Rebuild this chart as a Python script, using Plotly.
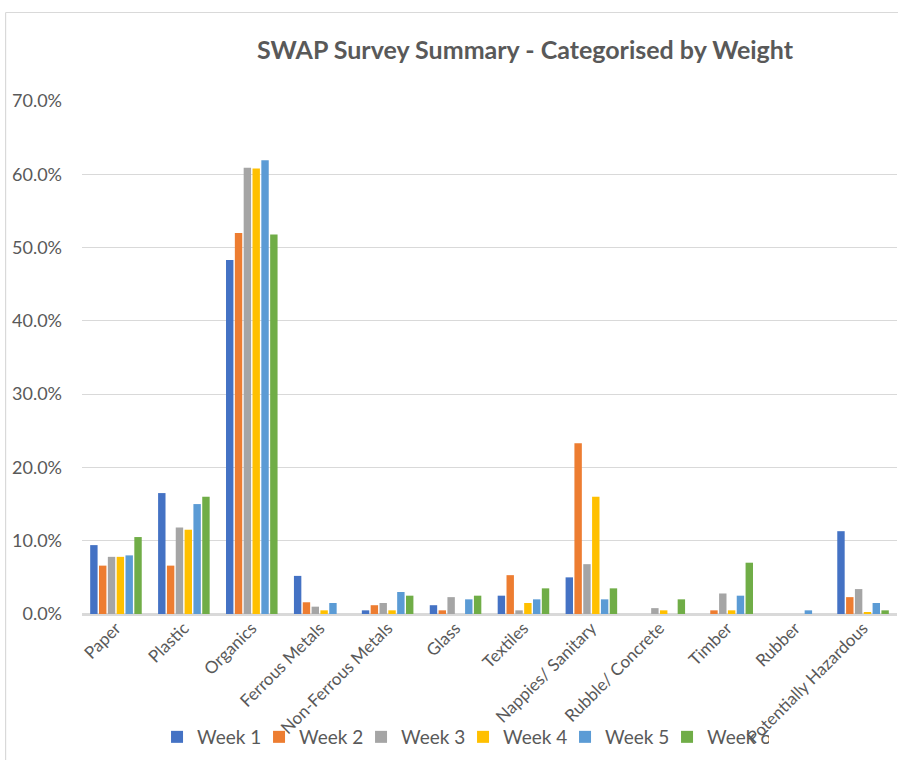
import plotly.graph_objects as go

# Waste composition by category, share of total weight per survey week
categories = [
    "Paper", "Plastic", "Organics", "Ferrous Metals", "Non-Ferrous Metals",
    "Glass", "Textiles", "Nappies/ Sanitary", "Rubble/ Concrete", "Timber",
    "Rubber", "Potentially Hazardous",
]

week_1 = [0.094, 0.165, 0.483, 0.052, 0.005, 0.012, 0.025, 0.050, None, None, None, 0.113]
week_2 = [0.066, 0.066, 0.520, 0.016, 0.012, 0.005, 0.053, 0.233, None, 0.005, None, 0.023]
week_3 = [0.078, 0.118, 0.609, 0.010, 0.015, 0.023, 0.005, 0.068, 0.008, 0.028, None, 0.034]
week_4 = [0.078, 0.115, 0.608, 0.005, 0.005, None, 0.015, 0.160, 0.005, 0.005, None, 0.002]
week_5 = [0.080, 0.150, 0.619, 0.015, 0.030, 0.020, 0.020, 0.020, None, 0.025, 0.005, 0.015]
week_6 = [0.105, 0.160, 0.518, None, 0.025, 0.025, 0.035, 0.035, 0.020, 0.070, None, 0.005]

series_names = ["Week 1", "Week 2", "Week 3", "Week 4", "Week 5", "Week 6"]
series_values = [week_1, week_2, week_3, week_4, week_5, week_6]
series_colors = ["#4472C4", "#ED7D31", "#A5A5A5", "#FFC000", "#5B9BD5", "#70AD47"]

y_ticks = [0, 0.1, 0.2, 0.3, 0.4, 0.5, 0.6, 0.7]

FONT = "Lato"
TEXT_GREY = "#595959"
GRID_GREY = "#D9D9D9"

fig = go.Figure()
for name, values, color in zip(series_names, series_values, series_colors):
    fig.add_trace(go.Bar(
        x=categories,
        y=values,
        name=name,
        marker=dict(color=color, line=dict(width=0)),
    ))

W, H = 898, 760
ml, mr, mt, mb = 81.5, 0.5, 101, 146
pw = W - ml - mr
ph = H - mt - mb


def px_x(x):
    return (x - ml) / pw


def px_y(y):
    return (H - mb - y) / ph


# Chart-area frame (top and left edges)
frame = [
    dict(type="line", xref="paper", yref="paper",
         x0=px_x(5), x1=px_x(W + 2), y0=px_y(12.5), y1=px_y(12.5),
         line=dict(color=GRID_GREY, width=1.2)),
    dict(type="line", xref="paper", yref="paper",
         x0=px_x(5), x1=px_x(5), y0=px_y(12.5), y1=px_y(H + 2),
         line=dict(color=GRID_GREY, width=1.2)),
]

fig.update_layout(
    width=W, height=H,
    margin=dict(l=ml, r=mr, t=mt, b=mb, pad=0),
    paper_bgcolor="white",
    plot_bgcolor="white",
    barmode="group",
    bargap=0.22,
    bargroupgap=0.16,
    font=dict(family=FONT, color=TEXT_GREY, size=17),
    title=dict(
        text="<b>SWAP Survey Summary - Categorised by Weight</b>",
        font=dict(family=FONT, size=25, color=TEXT_GREY),
        x=px_x(525), xanchor="center",
        y=1 - 50 / H, yanchor="middle",
        xref="paper", yref="container",
    ),
    xaxis=dict(
        type="category",
        tickangle=-45,
        tickfont=dict(size=17, color=TEXT_GREY),
        showgrid=False,
        showline=False,
        ticks="",
        zeroline=False,
    ),
    yaxis=dict(
        range=[0, 0.7],
        tickvals=y_ticks,
        tickformat=".1%",
        tickfont=dict(size=18, color=TEXT_GREY),
        showgrid=True,
        gridcolor=GRID_GREY,
        gridwidth=1.3,
        zeroline=True,
        zerolinecolor=GRID_GREY,
        zerolinewidth=2.5,
        showline=False,
        ticks="",
        ticklabelstandoff=19,
    ),
    legend=dict(
        orientation="h",
        x=px_x(463), xanchor="center",
        y=px_y(737), yanchor="middle",
        font=dict(size=19, color=TEXT_GREY),
        itemwidth=30,
        entrywidth=57,
        entrywidthmode="pixels",
        tracegroupgap=0,
        bgcolor="rgba(0,0,0,0)",
    ),
    shapes=frame,
)

fig.write_html("out.html")
